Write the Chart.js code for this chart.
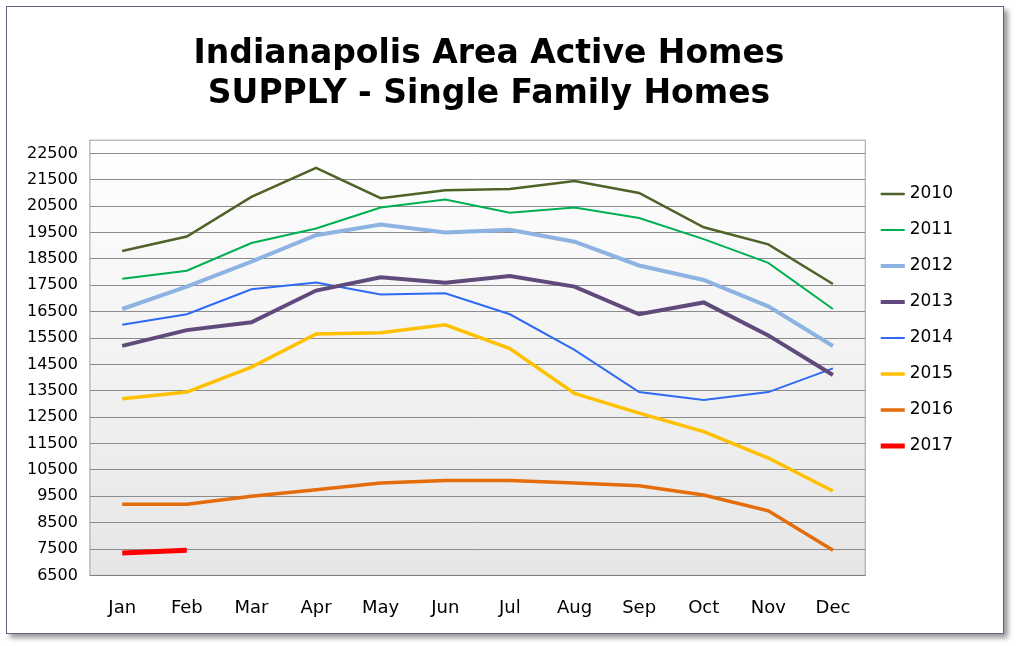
<!DOCTYPE html>
<html>
<head>
<meta charset="utf-8">
<script src="https://cdn.jsdelivr.net/npm/chart.js@4"></script>
<style>
  body { margin: 0; background: #fff; }
  #frame { position: absolute; left: 6px; top: 6px; width: 996px; height: 626px;
    border: 1px solid #6b5b8c; box-shadow: 4px 4px 5px #999; background: #fff; }
</style>
</head>
<body>
<div id="frame"><canvas id="myChart" width="996" height="626"></canvas></div>
<script>
var months = ['Jan', 'Feb', 'Mar', 'Apr', 'May', 'Jun', 'Jul', 'Aug', 'Sep', 'Oct', 'Nov', 'Dec'];
var years = ['2010', '2011', '2012', '2013', '2014', '2015', '2016', '2017'];
var s2010 = [18800, 19350, 20850, 21950, 20800, 21100, 21150, 21450, 21000, 19700, 19050, 17550];
var s2011 = [17750, 18050, 19100, 19650, 20450, 20750, 20250, 20450, 20050, 19250, 18350, 16600];
var s2012 = [16600, 17450, 18400, 19400, 19800, 19500, 19600, 19150, 18250, 17700, 16700, 15200];
var s2013 = [15200, 15800, 16100, 17300, 17800, 17600, 17850, 17450, 16400, 16850, 15600, 14100];
var s2014 = [16000, 16400, 17350, 17600, 17150, 17200, 16400, 15050, 13450, 13150, 13450, 14350];
var s2015 = [13200, 13450, 14400, 15650, 15700, 16000, 15100, 13400, 12650, 11950, 10950, 9700];
var s2016 = [9200, 9200, 9500, 9750, 10000, 10100, 10100, 10000, 9900, 9550, 8950, 7450];
var s2017 = [7350, 7450];

var colors = ['#4f6228', '#00b050', '#8db3e2', '#604a7b', '#2f6af5', '#ffc000', '#e46c0a', '#ff0000'];
var widths = [2.5, 2, 4, 4, 2, 3.5, 3.5, 5];
var series = [s2010, s2011, s2012, s2013, s2014, s2015, s2016, s2017];

var datasets = [];
for (var i = 0; i < years.length; i++) {
  datasets.push({
    label: years[i],
    data: series[i],
    borderColor: colors[i],
    backgroundColor: colors[i],
    borderWidth: widths[i],
    pointRadius: 0,
    tension: 0,
    fill: false
  });
}

var plotBg = {
  id: 'plotBg',
  beforeDraw: function(chart) {
    var a = chart.chartArea, c = chart.ctx;
    var g = c.createLinearGradient(0, a.top, 0, a.bottom);
    g.addColorStop(0, '#ffffff');
    g.addColorStop(1, '#e6e6e6');
    c.save();
    c.fillStyle = g;
    c.fillRect(a.left, a.top, a.right - a.left, a.bottom - a.top);
    c.strokeStyle = '#a0a0a0';
    c.strokeRect(a.left, a.top, a.right - a.left, a.bottom - a.top);
    c.restore();
  }
};

var ctx = document.getElementById('myChart').getContext('2d');
var chart = new Chart(ctx, {
  type: 'line',
  data: { labels: months, datasets: datasets },
  plugins: [plotBg],
  options: {
    responsive: false,
    animation: false,
    layout: { padding: { left: 8, right: 40, top: 0, bottom: 0 } },
    plugins: {
      title: {
        display: true,
        text: ['Indianapolis Area Active Homes', 'SUPPLY - Single Family Homes'],
        color: '#000',
        font: { family: 'DejaVu Sans', size: 33, weight: 'bold' },
        padding: { top: 28, bottom: 26 },
        lineHeight: 1.35
      },
      legend: {
        position: 'right',
        labels: {
          usePointStyle: true,
          pointStyle: 'line',
          boxWidth: 44,
          padding: 19,
          color: '#000',
          font: { family: 'DejaVu Sans', size: 17 }
        }
      },
      tooltip: { enabled: false }
    },
    scales: {
      x: {
        offset: true,
        grid: { display: false },
        ticks: { color: '#000', font: { family: 'DejaVu Sans', size: 18 }, padding: 14 }
      },
      y: {
        min: 6500,
        max: 23000,
        afterBuildTicks: function(axis) {
          var t = [];
          for (var v = 6500; v <= 22500; v += 1000) t.push({ value: v });
          axis.ticks = t;
        },
        grid: { color: '#8c8c8c', drawTicks: false },
        border: { display: false },
        ticks: {
          color: '#000', font: { family: 'DejaVu Sans', size: 16 }, padding: 12,
          callback: function(v) { return String(v); }
        }
      }
    }
  }
});
</script>
</body>
</html>
